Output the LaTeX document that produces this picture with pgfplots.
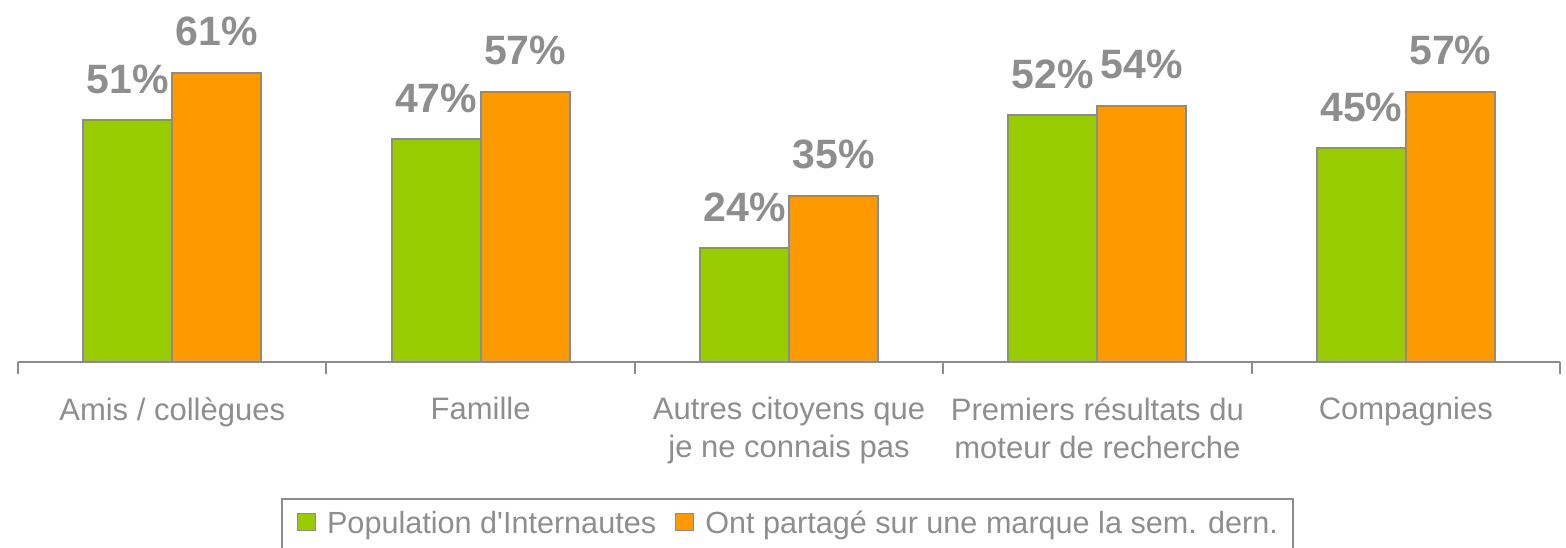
\documentclass[border=0pt]{standalone}
\usepackage{fontspec}
\setmainfont{Liberation Sans}
\usepackage{pgfplots}
\pgfplotsset{compat=1.18}
\definecolor{cgreen}{HTML}{99CC00}
\definecolor{corange}{HTML}{FF9900}
\definecolor{cborder}{HTML}{8C8C8C}
\definecolor{ctext}{HTML}{8E8E8E}
\begin{document}
\begin{tikzpicture}
\begin{axis}[
  at={(0,0)}, anchor=south west,
  scale only axis,
  width=771pt, height=181pt,
  xmin=-0.5, xmax=4.5,
  ymin=0, ymax=76.3,
  clip=false,
  ybar=0pt,
  bar width=44.5pt,
  axis x line*=bottom,
  axis y line=none,
  x axis line style={-, draw=cborder, line width=1pt},
  xtick={0,1,2,3,4},
  xticklabels={{Amis / collègues},{Famille},{Autres citoyens que\\je ne connais pas},{Premiers résultats du\\moteur de recherche},{Compagnies}},
  major tick length=0pt,
  minor xtick={-0.5,0.5,1.5,2.5,3.5,4.5},
  minor tick length=6pt,
  tick align=outside,
  minor tick style={draw=cborder, line width=1pt},
  xticklabel style={font=\fontsize{15.5pt}{19pt}\selectfont, text=ctext, align=center, anchor=north, inner sep=0pt, yshift=-17.5pt},
  nodes near coords={\pgfmathprintnumber[assume math mode=true]{\pgfplotspointmeta}\%},
  every node near coord/.append style={font=\fontsize{20.5pt}{24pt}\selectfont\bfseries, text=ctext, anchor=base, inner sep=0pt, yshift=13.5pt},
  legend columns=2,
  legend style={draw=cborder, line width=0.75pt, at={(0.499,-0.3757)}, anchor=north,
    font=\fontsize{15.3pt}{18pt}\selectfont, text=ctext, inner xsep=7.5pt, inner ysep=6pt,
    nodes={inner sep=0pt},
    /tikz/every odd column/.append style={column sep=5.5pt},
    /tikz/every even column/.append style={column sep=9.5pt}},
  legend image code/.code={\draw[#1, draw=cborder, line width=0.6pt] (0pt,-3.5pt) rectangle (9pt,5pt);},
]
\addplot[fill=cgreen, draw=cborder, line width=1pt] coordinates {(0,51) (1,47) (2,24) (3,52) (4,45)};
\addplot[fill=corange, draw=cborder, line width=1pt] coordinates {(0,61) (1,57) (2,35) (3,54) (4,57)};
\legend{Population d\textquotesingle Internautes, Ont partagé sur une marque la sem. dern.}
\end{axis}
\pgfresetboundingbox
\useasboundingbox (-9pt,-92.5pt) rectangle (774pt,181pt);
\end{tikzpicture}
\end{document}
